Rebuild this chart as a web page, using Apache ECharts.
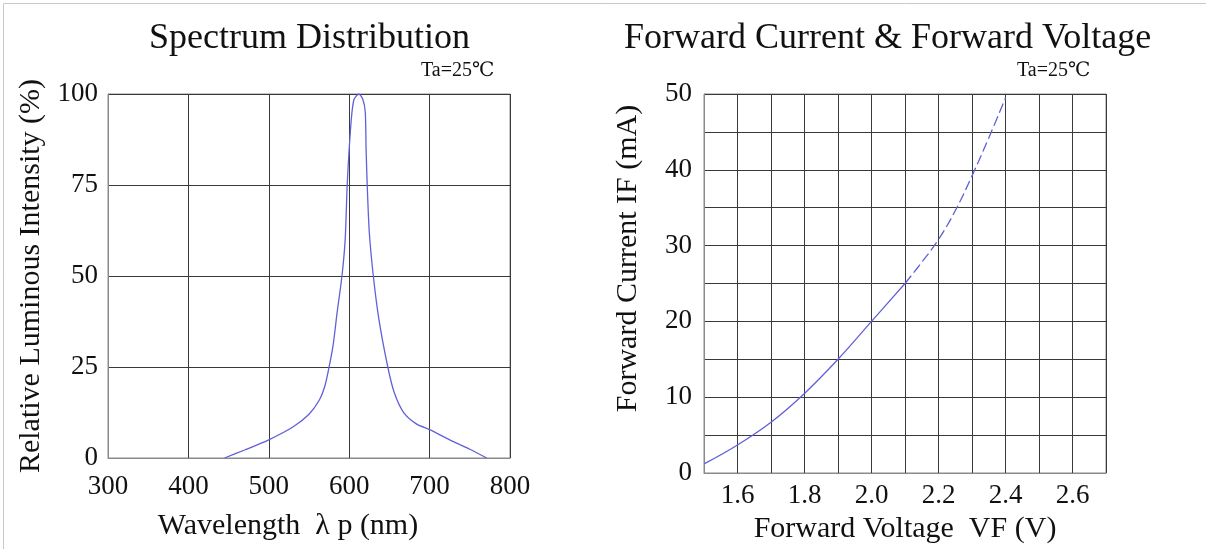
<!DOCTYPE html>
<html>
<head>
<meta charset="utf-8">
<script src="https://cdn.jsdelivr.net/npm/echarts@6/dist/echarts.min.js"></script>
<style>
  html, body { margin: 0; padding: 0; background: #fff; }
  #chart { width: 1206px; height: 549px; }
</style>
</head>
<body>
<div id="chart"></div>
<script>
// ---- Spectrum Distribution data (wavelength nm, relative intensity %) ----
const spectrumWavelength = [445, 470, 500, 530, 550, 563, 570, 575, 580, 585, 591, 595, 597.5, 600, 603, 606, 612, 617, 620, 621, 622.4, 625, 630, 637, 648, 656, 668, 684, 700, 725, 750, 771];
const spectrumIntensity  = [0,   2.2, 5,   8.5, 12,  16,  20,  25,  31,  40,  50,  60,  75,    85,  94,  98.5, 100, 98.5, 95, 85,  75,    62,  50,  38,  25,  18,  12.4, 9.3, 7.8, 5,  2.4, 0];

// ---- Forward Current vs Forward Voltage (V, mA) ----
const vfSolid = [1.5, 1.6, 1.7, 1.8, 1.9, 2.0, 2.1];
const ifSolid = [1.2, 3.7, 6.7, 10.5, 15, 20, 25];
const vfDashed = [2.1, 2.15, 2.2, 2.25, 2.3, 2.35, 2.4];
const ifDashed = [25, 27.8, 30.8, 34.6, 39.2, 44.2, 49.5];

// ---- Axis ticks / labels ----
const spectrumXTicks = [300, 400, 500, 600, 700, 800];
const spectrumYTicks = [0, 25, 50, 75, 100];
const ivXLabels = ['1.6', '1.8', '2.0', '2.2', '2.4', '2.6'];
const ivYLabels = [0, 10, 20, 30, 40, 50];

const FONT = '"Liberation Serif", "DejaVu Serif", serif';
const TXT = '#111';
const GRIDC = '#3a3a3a';
const LINEC = '#6060d8';

const chart = echarts.init(document.getElementById('chart'), null, { renderer: 'canvas' });

function zip(a, b) { return a.map((v, i) => [v, b[i]]); }

const option = {
  backgroundColor: '#fff',
  animation: false,
  grid: [
    { left: 108, top: 94, width: 402, height: 364, show: true, borderColor: '#8a8a8a', borderWidth: 1, containLabel: false },
    { left: 704, top: 94, width: 402, height: 379, show: true, borderColor: '#8a8a8a', borderWidth: 1, containLabel: false }
  ],
  xAxis: [
    {
      gridIndex: 0, type: 'value',
      min: spectrumXTicks[0], max: spectrumXTicks[spectrumXTicks.length - 1], interval: 100,
      name: 'Wavelength  λ p (nm)', nameLocation: 'middle', nameGap: 53,
      nameTextStyle: { fontFamily: FONT, fontSize: 30, color: TXT, padding: [0, 42, 0, 0] },
      axisLine: { lineStyle: { color: '#8a8a8a', width: 1 } },
      axisTick: { show: false },
      axisLabel: { fontFamily: FONT, fontSize: 27, color: TXT, margin: 15 },
      splitLine: { show: true, lineStyle: { color: GRIDC, width: 1 } }
    },
    {
      gridIndex: 1, type: 'value',
      min: 1.5, max: 2.7, interval: 0.1,
      name: 'Forward Voltage  VF (V)', nameLocation: 'middle', nameGap: 38,
      nameTextStyle: { fontFamily: FONT, fontSize: 30, color: TXT },
      axisLine: { lineStyle: { color: '#8a8a8a', width: 1 } },
      axisTick: { show: false },
      axisLabel: {
        fontFamily: FONT, fontSize: 27, color: TXT, margin: 9,
        formatter: function (v) {
          const s = (Math.round(v * 10) / 10).toFixed(1);
          return ivXLabels.indexOf(s) >= 0 ? s : '';
        }
      },
      splitLine: { show: true, lineStyle: { color: GRIDC, width: 1 } }
    }
  ],
  yAxis: [
    {
      gridIndex: 0, type: 'value',
      min: spectrumYTicks[0], max: spectrumYTicks[spectrumYTicks.length - 1], interval: 25,
      name: 'Relative Luminous Intensity (%)', nameLocation: 'middle', nameGap: 62,
      nameTextStyle: { fontFamily: FONT, fontSize: 30, color: TXT },
      axisLine: { show: true, lineStyle: { color: '#8a8a8a', width: 1 } },
      axisTick: { show: false },
      axisLabel: { fontFamily: FONT, fontSize: 27, color: TXT, margin: 10 },
      splitLine: { show: true, lineStyle: { color: GRIDC, width: 1 } }
    },
    {
      gridIndex: 1, type: 'value',
      min: 0, max: 50, interval: 5,
      name: 'Forward Current IF (mA)', nameLocation: 'middle', nameGap: 61,
      nameTextStyle: { fontFamily: FONT, fontSize: 30, color: TXT, padding: [0, 0, 0, 50] },
      axisLine: { show: true, lineStyle: { color: '#8a8a8a', width: 1 } },
      axisTick: { show: false },
      axisLabel: {
        fontFamily: FONT, fontSize: 27, color: TXT, margin: 12,
        formatter: function (v) { return ivYLabels.indexOf(Math.round(v)) >= 0 && Math.abs(v - Math.round(v)) < 1e-6 ? String(Math.round(v)) : ''; }
      },
      splitLine: { show: true, lineStyle: { color: GRIDC, width: 1 } }
    }
  ],
  series: [
    {
      name: 'Spectrum', type: 'line', xAxisIndex: 0, yAxisIndex: 0,
      data: zip(spectrumWavelength, spectrumIntensity),
      smooth: 0.25, showSymbol: false, symbol: 'none',
      lineStyle: { color: LINEC, width: 1.3 }
    },
    {
      name: 'IF solid', type: 'line', xAxisIndex: 1, yAxisIndex: 1,
      data: zip(vfSolid, ifSolid),
      smooth: 0.4, showSymbol: false, symbol: 'none',
      lineStyle: { color: LINEC, width: 1.3 }
    },
    {
      name: 'IF dashed', type: 'line', xAxisIndex: 1, yAxisIndex: 1,
      data: zip(vfDashed, ifDashed),
      smooth: 0.4, showSymbol: false, symbol: 'none',
      lineStyle: { color: LINEC, width: 1.3, type: [10, 4] }
    }
  ],
  graphic: [
    { type: 'line', shape: { x1: 3.5, y1: 3.5, x2: 1206, y2: 3.5 }, style: { stroke: '#c8c8c8', lineWidth: 1 } },
    { type: 'line', shape: { x1: 3.5, y1: 3.5, x2: 3.5, y2: 549 }, style: { stroke: '#c8c8c8', lineWidth: 1 } },
    { type: 'text', left: 149, top: 21, style: { text: 'Spectrum Distribution', fontFamily: FONT, fontSize: 36, fill: TXT } },
    { type: 'text', left: 421, top: 61, style: { text: 'Ta=25℃', fontFamily: FONT, fontSize: 20, fill: TXT } },
    { type: 'text', left: 624, top: 21, style: { text: 'Forward Current & Forward Voltage', fontFamily: FONT, fontSize: 36, fill: TXT } },
    { type: 'text', left: 1017, top: 61, style: { text: 'Ta=25℃', fontFamily: FONT, fontSize: 20, fill: TXT } }
  ]
};

chart.setOption(option);
</script>
</body>
</html>
